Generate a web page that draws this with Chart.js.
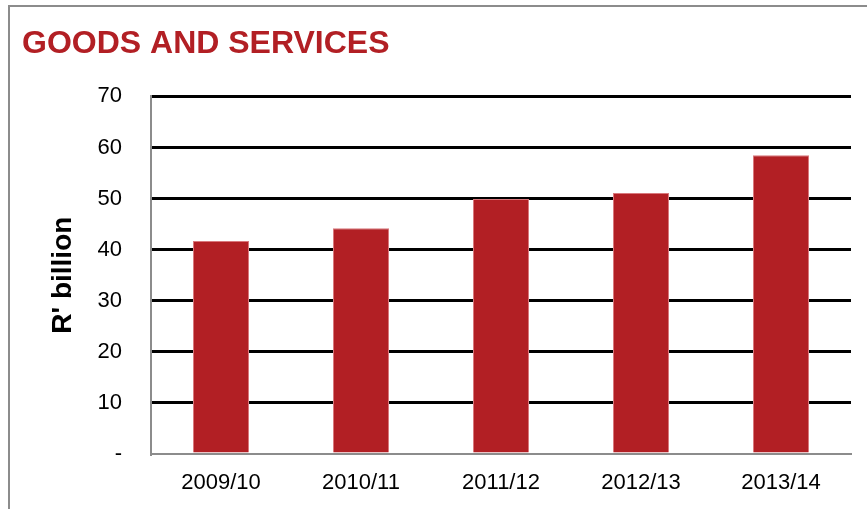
<!DOCTYPE html>
<html>
<head>
<meta charset="utf-8">
<script src="https://cdn.jsdelivr.net/npm/chart.js@4/dist/chart.umd.min.js"></script>
<style>
  html, body { margin: 0; padding: 0; background: #fff; overflow: hidden; }
  #wrap { position: relative; width: 867px; height: 509px; }
  #frame { position: absolute; left: 8px; top: 5px; width: 900px; height: 600px; border: 2px solid #8c8c8c; }
  canvas { position: absolute; left: 0; top: 0; }
</style>
</head>
<body>
<div id="wrap">
  <div id="frame"></div>
  <canvas id="myChart" width="867" height="509"></canvas>
</div>
<script>
// values
var years = ["2009/10", "2010/11", "2011/12", "2012/13", "2013/14"];
var spend = [41.7, 44.2, 49.9, 51.1, 58.5];
var yTicks = [0, 10, 20, 30, 40, 50, 60, 70];

var red = "#B21F24";
Chart.defaults.font.family = "'Liberation Sans', Arial, sans-serif";
Chart.defaults.color = "#000";

var ctx = document.getElementById("myChart").getContext("2d");
var myChart = new Chart(ctx, {
    type: "bar",
    data: {
        labels: years,
        datasets: [{
            data: spend,
            backgroundColor: red,
            borderColor: "#d9787c",
            borderWidth: 1,
            barPercentage: 0.4,
            categoryPercentage: 1
        }]
    },
    options: {
        responsive: false,
        animation: false,
        layout: { padding: { left: 22, right: 16, top: 25, bottom: 4 } },
        plugins: {
            legend: { display: false },
            tooltip: { enabled: false },
            title: {
                display: true,
                text: "GOODS AND SERVICES",
                align: "start",
                color: red,
                font: { size: 32, weight: "bold" },
                padding: { top: 0, bottom: 33 }
            }
        },
        scales: {
            x: {
                grid: { display: false },
                border: { color: "#8c8c8c", width: 2 },
                ticks: { font: { size: 22 }, padding: 8 },
                afterFit: function(scale) { scale.height = 51; }
            },
            y: {
                min: 0,
                max: 70,
                afterBuildTicks: function(scale) {
                    scale.ticks = yTicks.map(function(v) { return { value: v }; });
                },
                grid: {
                    drawTicks: false,
                    lineWidth: 3,
                    color: function(c) { return c.tick && c.tick.value === 0 ? "rgba(0,0,0,0)" : "#000"; }
                },
                border: { color: "#8c8c8c", width: 2 },
                ticks: {
                    font: { size: 22 },
                    padding: 29,
                    callback: function(v) { return v === 0 ? "-" : v; }
                },
                title: {
                    display: true,
                    text: "R' billion",
                    font: { size: 28, weight: "bold" },
                    padding: { top: 24, bottom: 0 }
                },
                afterFit: function(scale) { scale.width = 129; }
            }
        }
    }
});
</script>
</body>
</html>
